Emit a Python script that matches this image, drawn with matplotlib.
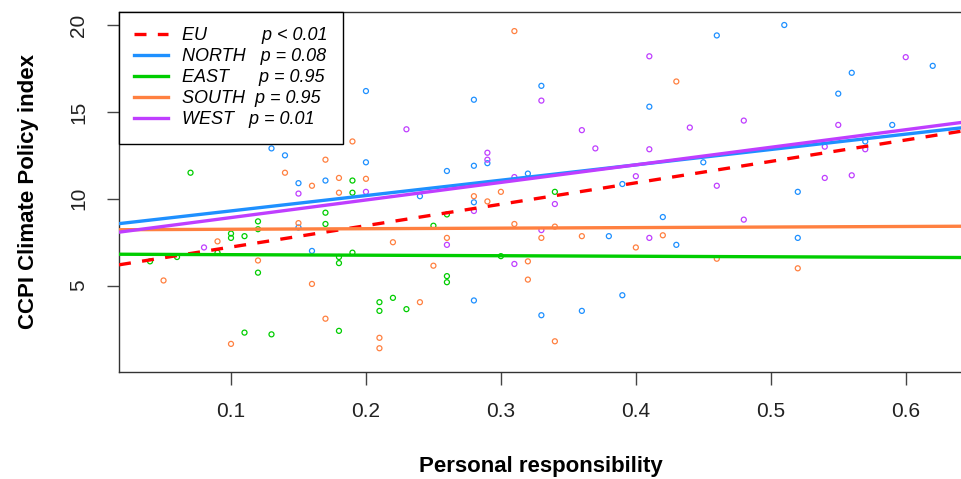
import numpy as np
import matplotlib
matplotlib.use("Agg")
import matplotlib.pyplot as plt

plt.rcParams['font.family'] = ['Liberation Sans', 'DejaVu Sans']

# points (personal responsibility, CCPI index)
north_x = [0.13, 0.14, 0.17, 0.15, 0.15, 0.16, 0.20, 0.28, 0.20, 0.26, 0.28, 0.24, 0.28, 0.28, 0.33,
           0.33, 0.29, 0.32, 0.39, 0.41, 0.45, 0.46, 0.51, 0.52, 0.55, 0.56, 0.57, 0.59, 0.62, 0.38,
           0.42, 0.43, 0.52, 0.36, 0.39]
north_y = [12.9, 12.5, 11.05, 10.9, 8.35, 7.0, 16.2, 15.7, 12.1, 11.6, 11.9, 10.15, 9.8, 4.15, 3.3,
           16.5, 12.05, 11.45, 10.85, 15.3, 12.1, 19.4, 20.0, 10.4, 16.05, 17.25, 13.3, 14.25, 17.65, 7.85,
           8.95, 7.35, 7.75, 3.55, 4.45]

east_x = [0.07, 0.12, 0.12, 0.17, 0.17, 0.10, 0.10, 0.11, 0.19, 0.19, 0.26, 0.25, 0.09, 0.06, 0.04,
          0.12, 0.18, 0.18, 0.19, 0.11, 0.13, 0.18, 0.21, 0.21, 0.22, 0.23, 0.26, 0.26, 0.30, 0.34]
east_y = [11.5, 8.7, 8.25, 9.2, 8.55, 8.0, 7.75, 7.85, 11.05, 10.35, 9.1, 8.45, 6.9, 6.65, 6.4,
          5.75, 6.65, 6.3, 6.9, 2.3, 2.2, 2.4, 4.05, 3.55, 4.3, 3.65, 5.55, 5.2, 6.7, 10.4]

south_x = [0.14, 0.17, 0.16, 0.15, 0.09, 0.19, 0.18, 0.20, 0.18, 0.28, 0.26, 0.22, 0.12, 0.05, 0.16,
           0.17, 0.10, 0.24, 0.21, 0.21, 0.25, 0.29, 0.30, 0.31, 0.33, 0.32, 0.32, 0.31, 0.43, 0.34,
           0.36, 0.42, 0.40, 0.46, 0.52, 0.34]
south_y = [11.5, 12.25, 10.75, 8.6, 7.55, 13.3, 11.2, 11.15, 10.35, 10.15, 7.75, 7.5, 6.45, 5.3, 5.1,
           3.1, 1.65, 4.05, 2.0, 1.4, 6.15, 9.85, 10.4, 8.55, 7.75, 6.4, 5.35, 19.65, 16.75, 8.4,
           7.85, 7.9, 7.2, 6.55, 6.0, 1.8]

west_x = [0.15, 0.23, 0.20, 0.28, 0.26, 0.08, 0.33, 0.31, 0.33, 0.36, 0.37, 0.29, 0.29, 0.31, 0.40,
          0.41, 0.41, 0.44, 0.46, 0.48, 0.54, 0.54, 0.55, 0.56, 0.57, 0.60, 0.34, 0.41, 0.48]
west_y = [10.3, 14.0, 10.4, 9.3, 7.35, 7.2, 8.2, 6.25, 15.65, 13.95, 12.9, 12.65, 12.25, 11.25, 11.3,
          18.2, 12.85, 14.1, 10.75, 14.5, 13.0, 11.2, 14.25, 11.35, 12.85, 18.15, 9.7, 7.75, 8.8]

# regression lines, value at left and right edge of the plot
line_x = [0.017, 0.642]
eu_line = [6.2, 13.9]
north_line = [8.57, 14.09]
east_line = [6.81, 6.62]
south_line = [8.22, 8.42]
west_line = [8.08, 14.40]

groups = ["EU", "NORTH", "EAST", "SOUTH", "WEST"]
pvals = ["p < 0.01", "p = 0.08", "p = 0.95", "p = 0.95", "p = 0.01"]
gaps = [10, 2, 5, 1, 2]

c_eu = "#FF0000"
c_north = "#1E90FF"
c_east = "#00CD00"
c_south = "#FF8040"
c_west = "#BF3EFF"

fig = plt.figure(figsize=(9.62, 4.79), dpi=100)
ax = fig.add_axes([0.1237, 0.224, 0.8763, 0.751])

for xx, yy, cc in [(north_x, north_y, c_north), (east_x, east_y, c_east),
                   (south_x, south_y, c_south), (west_x, west_y, c_west)]:
  ax.scatter(xx, yy, s=13, facecolors='none', edgecolors=cc, linewidths=0.9, zorder=2)

lw = 2.4
h_eu, = ax.plot(line_x, eu_line, color=c_eu, lw=lw, dashes=(3.6, 3.4), zorder=3)
h_n, = ax.plot(line_x, north_line, color=c_north, lw=lw, zorder=3)
h_e, = ax.plot(line_x, east_line, color=c_east, lw=lw, zorder=3)
h_s, = ax.plot(line_x, south_line, color=c_south, lw=lw, zorder=3)
h_w, = ax.plot(line_x, west_line, color=c_west, lw=lw, zorder=3)

labels = [g + " " * n + " " + p for g, n, p in zip(groups, gaps, pvals)]
leg = ax.legend([h_eu, h_n, h_e, h_s, h_w], labels, loc='upper left', bbox_to_anchor=(0, 1),
                borderaxespad=0, fancybox=False, framealpha=1, edgecolor='black',
                prop={'style': 'italic', 'size': 13}, handlelength=1.85, handletextpad=0.8,
                labelspacing=0.22, borderpad=0.85)
leg.get_frame().set_linewidth(1.0)
leg.set_zorder(5)

ax.set_xlim(0.017, 0.6417)
ax.set_ylim(0.05, 20.75)
ax.set_xticks([0.1, 0.2, 0.3, 0.4, 0.5, 0.6])
ax.set_xticklabels(["0.1", "0.2", "0.3", "0.4", "0.5", "0.6"])
ax.set_yticks([5, 10, 15, 20])
ax.set_yticklabels(["5", "10", "15", "20"], rotation=90, va='center')

ax.spines['right'].set_visible(False)
for sp in ['top', 'left', 'bottom']:
  ax.spines[sp].set_color('#333333')
  ax.spines[sp].set_linewidth(1.0)
ax.tick_params(axis='both', length=9, width=1, color='#444444', labelsize=15, labelcolor='#222222')
ax.tick_params(axis='x', pad=13)
ax.tick_params(axis='y', pad=13)

ax.set_xlabel("Personal responsibility", fontsize=16, fontweight='bold', labelpad=25)
ax.set_ylabel("CCPI Climate Policy index", fontsize=16, fontweight='bold', labelpad=22)

plt.savefig("out.png", dpi=100)
